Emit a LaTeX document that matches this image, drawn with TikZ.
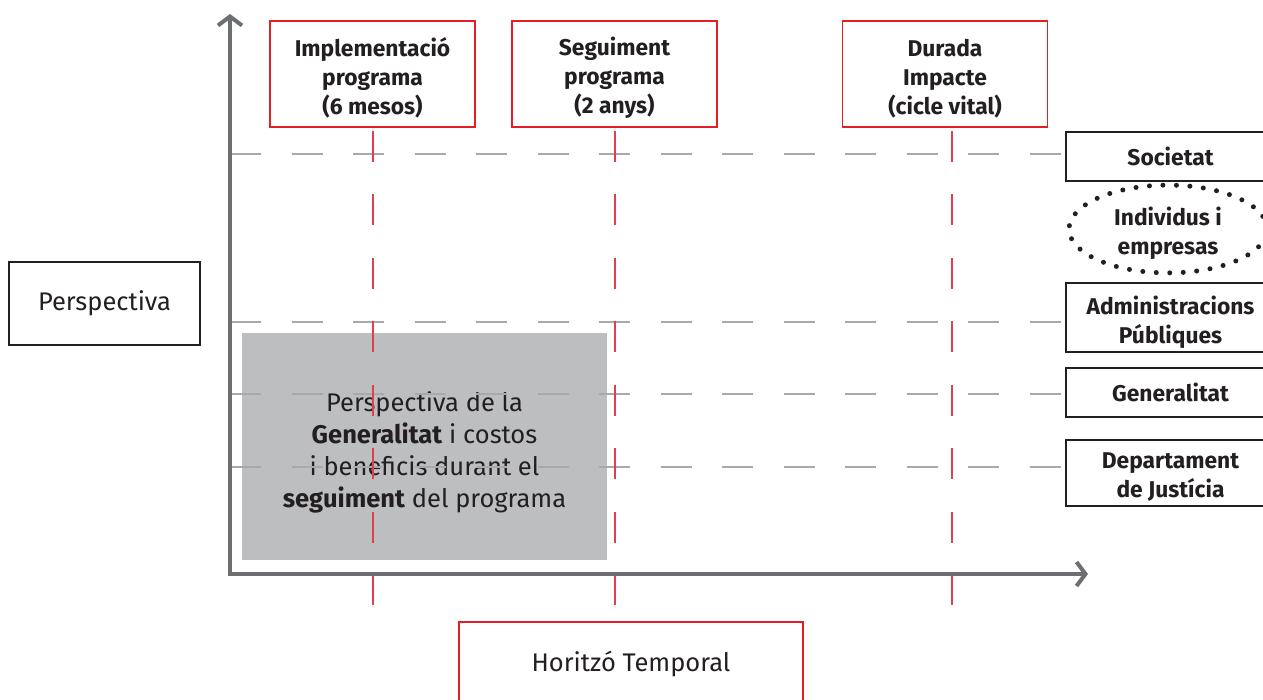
\documentclass[tikz,border=0pt]{standalone}
\usepackage{fontspec}
\setmainfont{Fira Sans}
\usepackage{tikz}
\usetikzlibrary{arrows.meta,calc,shapes.geometric}
\definecolor{redbox}{RGB}{227,30,36}
\definecolor{redline}{RGB}{226,62,82}
\definecolor{axisgray}{RGB}{109,110,113}
\definecolor{dashgray}{RGB}{167,169,172}
\definecolor{boxgray}{RGB}{188,190,192}
\definecolor{ink}{RGB}{35,31,32}
\newcommand\tstrut[1]{\rule{0pt}{#1}}
\tikzstyle{lvl}=[draw=ink, line width=1.6pt, minimum width=209, inner sep=0pt, align=center, text=ink, font=\bfseries\fontsize{22.8}{29}\selectfont]
\begin{document}
\begin{tikzpicture}[x=1pt,y=-1pt,
topbox/.style={draw=redbox, line width=1.8pt, minimum width=205, minimum height=106, inner sep=0pt, align=center, text=ink, font=\bfseries\fontsize{22.8}{29}\selectfont},
plain/.style={draw=ink, line width=1.6pt, inner sep=0pt, align=center, text=ink, font=\fontsize{25.5}{32}\selectfont},
axis/.style={axisgray, line width=4pt, {Straight Barb[length=9pt,width=24pt]}-{Straight Barb[length=9pt,width=24pt]}},
gdash/.style={dashgray, line width=2pt, dash pattern=on 31pt off 30.5pt},
rdash/.style={redline, line width=2pt, dash pattern=on 31pt off 32.5pt, dash phase=60.5pt}]
\useasboundingbox (0,0) rectangle (1263,700);
\clip (0,0) rectangle (1263,700);
% shaded area first, lines go over it
\node (zone) at (424.5,446.5)[fill=boxgray, minimum width=365, minimum height=227, inner sep=0pt, align=center, text=ink, font=\fontsize{25.5}{32}\selectfont] {\tstrut{31pt}Perspectiva de la\\\textbf{Generalitat} i costos\\i beneficis durant el\\\textbf{seguiment} del programa};
\node (impl) at (372.5,74)[topbox] {\tstrut{26pt}Implementació\\programa\\(6 mesos)};
\node (seg) at (614.5,74)[topbox] {\tstrut{26pt}Seguiment\\programa\\(2 anys)};
\node (dur) at (945,74)[topbox] {\tstrut{26pt}Durada\\Impacte\\(cicle vital)};
\node (soc) at (1170.5,156.5)[lvl, minimum height=49] {Societat};
\node (ind) at (1168,229)[ellipse, draw=ink, line width=5pt, line cap=round, dash pattern=on 0pt off 13.5pt, minimum width=198, minimum height=80, inner sep=0pt, align=center, text=ink, font=\bfseries\fontsize{22.8}{29}\selectfont] {\tstrut{28pt}Individus i\\empresas};
\node (adm) at (1170.5,317.5)[lvl, minimum height=69] {\tstrut{29pt}Administracions\\Públiques};
\node (gen) at (1170.5,392.5)[lvl, minimum height=49] {Generalitat};
\node (dep) at (1170.5,473)[lvl, minimum height=66] {\tstrut{23pt}Departament\\de Justícia};
\node (persp) at (104.5,303.5)[plain, minimum width=191, minimum height=83] {Perspectiva};
\node (horit) at (631,664)[draw=redbox, line width=1.8pt, minimum width=344, minimum height=84, inner sep=0pt, text=ink, font=\fontsize{25.5}{32}\selectfont] {Horitzó Temporal};
\coordinate (o) at (230,574);
\coordinate (ytop) at (230,14);
\coordinate (xend) at (1088,574);
\coordinate (base) at (0,605);
\coordinate (hs) at (230,154);
\coordinate (ha) at (230,322);
\coordinate (hg) at (230,394);
\coordinate (hd) at (230,467);
% perspective levels
\draw[gdash] (hs) -- (hs -| soc.west);
\draw[gdash] (ha) -- (ha -| adm.west);
\draw[gdash] (hg) -- (hg -| gen.west);
\draw[gdash] (hd) -- (hd -| dep.west);
% time marks
\draw[rdash] (impl.south) -- (impl.south |- base);
\draw[rdash] (seg.south) -- (seg.south |- base);
\draw[rdash] ([xshift=7pt]dur.south) -- ([xshift=7pt]dur.south |- base);
\draw[axis] (ytop) -- (o) -- (xend);
\end{tikzpicture}
\end{document}
